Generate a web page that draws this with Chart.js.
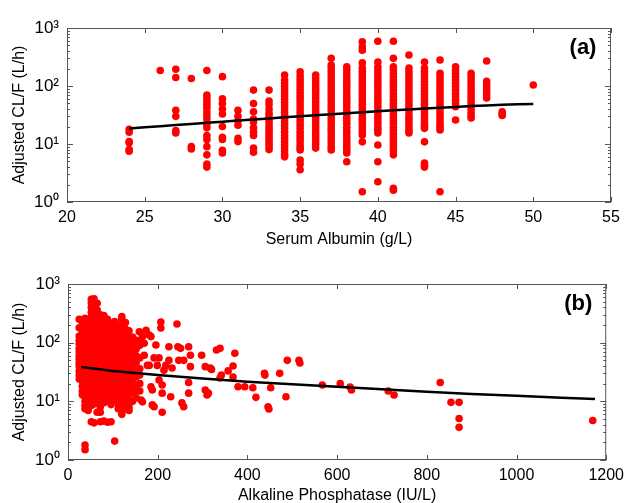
<!DOCTYPE html>
<html>
<head>
<meta charset="utf-8">
<script src="https://cdn.jsdelivr.net/npm/chart.js@4.4.1/dist/chart.umd.min.js"></script>
<style>
  html, body { margin: 0; padding: 0; background: #fff; }
  canvas { display: block; }
</style>
</head>
<body>
<canvas id="albumin" width="630" height="250"></canvas>
<canvas id="alp" width="630" height="253"></canvas>
<script>
// panel (a): serum albumin, one column of observations per integer value
const albuminLevels = [24, 26, 27, 28, 29, 30, 31, 32, 33, 34, 35, 36, 37, 38, 39, 40, 41, 42, 43, 44, 45, 46, 47, 48, 50];
const albuminClearance = [
  [18, 16, 11, 10.5, 8, 7.5],
  [185],
  [195, 140, 38, 30, 17, 15.5],
  [135, 9, 8.2],
  [185, 70, 62, 55, 48, 42, 36, 31, 27, 22, 19, 14, 12, 9, 6.5, 4.5, 4],
  [145, 60, 50, 40, 33, 20, 13, 12, 7.8, 7],
  [38, 30, 25, 21, 12.5, 11],
  [85, 50, 36, 27, 24, 19, 16, 14, 8.5, 7.2],
  [85, 55, 48, 40, 34, 30, 26, 23, 20, 18, 16, 14, 12.5, 11, 10, 9, 8],
  [155, 127, 112, 98, 86, 76, 67, 59, 52, 46, 40, 35, 31, 27, 24, 21, 18.5, 16, 14, 12.5, 11, 9.6, 8.5, 7.5, 6.6, 6],
  [176, 150, 132, 115, 100, 88, 77, 68, 60, 53, 46, 40, 35, 31, 27, 24, 21, 18.5, 16, 14, 12.5, 11, 9.6, 8.6, 7.9, 5.3, 4.5, 3.6],
  [155, 135, 118, 104, 91, 80, 70, 62, 54, 47, 41, 36, 32, 28, 24.5, 21.5, 19, 16.5, 14.5, 12.8, 11.2, 9.8, 8.5],
  [300, 230, 204, 178, 156, 137, 120, 105, 92, 81, 71, 62, 55, 48, 42, 37, 32, 28, 25, 22, 19, 17, 15, 13, 11.5, 10, 8.8, 7.9],
  [215, 188, 164, 144, 126, 110, 97, 85, 74, 65, 57, 50, 44, 38, 33, 29, 25.5, 22.5, 19.5, 17, 15, 13, 11.5, 10, 8.8, 7.8, 7, 4.95],
  [580, 475, 415, 250, 204, 178, 156, 137, 120, 105, 92, 81, 71, 62, 55, 48, 42, 37, 32, 28, 25, 22, 19, 16.5, 14.3, 10.9, 1.5],
  [590, 260, 215, 188, 164, 144, 126, 110, 97, 85, 74, 65, 57, 50, 44, 38, 33, 29, 25.5, 22.5, 19.5, 17.5, 15.5, 9.6, 4.95, 2.24],
  [590, 300, 215, 188, 164, 144, 126, 110, 97, 85, 74, 65, 57, 50, 44, 38, 33, 29, 25.5, 22.5, 19.5, 17, 15, 13, 11.5, 10, 8.8, 7.6, 6.5, 1.72, 1.6],
  [343, 204, 178, 156, 137, 120, 105, 92, 81, 71, 62, 55, 48, 42, 37, 32, 28, 25, 22, 19, 17, 15.5],
  [260, 204, 178, 156, 137, 120, 105, 92, 81, 71, 62, 55, 48, 42, 37, 32, 28, 25, 22, 20, 18.6, 10.9, 4.7, 4.3, 4.0],
  [280, 165, 145, 128, 112, 98, 86, 76, 67, 59, 52, 46, 40, 35, 31, 27, 24, 21, 19, 17.5, 1.5],
  [215, 188, 164, 144, 126, 110, 97, 85, 74, 65, 57, 50, 44, 26],
  [165, 145, 128, 112, 98, 86, 76, 67, 59, 52, 46, 40, 35, 31, 28],
  [270, 120, 105, 92, 81, 71, 62],
  [36, 33, 31],
  [104]
];
const albuminFitX = [24, 25, 26, 27, 28, 29, 30, 31, 32, 33, 34, 35, 36, 37, 38, 39, 40, 41, 42, 43, 44, 45, 46, 47, 48, 49, 50];
const albuminFitY = [18.5, 19.5, 20.3, 21.2, 22.2, 23.2, 24.2, 25.3, 26.4, 27.6, 28.8, 30, 31.3, 32.6, 33.9, 35.3, 36.6, 38, 39.4, 40.8, 42.2, 43.6, 45, 46.3, 47.5, 48.6, 49];
const albuminTicks = [20, 25, 30, 35, 40, 45, 50, 55];

// panel (b): alkaline phosphatase, dense low-ALP cloud by column + scattered points
const alpCloudX = [25, 32, 38, 45, 52, 58, 65, 72, 80, 88, 96, 104, 112, 120, 128, 136, 144, 152, 160];
const alpCloudY = [
  [250, 180, 130, 110, 95, 80, 70, 60, 52, 45, 40, 33, 28, 24],
  [230, 200, 160, 140, 120, 100, 88, 75, 65, 57, 48, 42, 36, 30, 26, 22, 18, 15, 13],
  [260, 210, 170, 150, 125, 105, 92, 80, 68, 58, 50, 44, 38, 32, 27, 23, 19, 16, 14, 12, 10, 8.5, 7.5, 1.8, 1.5],
  [240, 190, 160, 135, 115, 98, 85, 72, 62, 53, 46, 40, 34, 29, 25, 21, 18, 15, 13, 11, 9.5, 8, 7],
  [550, 480, 400, 330, 270, 220, 180, 150, 128, 108, 92, 78, 66, 56, 48, 41, 35, 30, 26, 22, 19, 16, 14, 12, 10, 8.5, 4.5],
  [560, 420, 350, 280, 230, 190, 160, 135, 115, 97, 83, 70, 60, 51, 44, 38, 32, 27, 23, 20, 17, 14.5, 12.5, 10.5, 9, 4.3],
  [470, 360, 250, 200, 170, 142, 120, 102, 87, 74, 63, 54, 46, 39, 33, 28, 24, 20.5, 17.5, 15, 13, 11, 9.5, 6.5],
  [300, 240, 200, 165, 140, 118, 100, 85, 72, 61, 52, 44, 37, 31, 26.5, 22.5, 19, 16, 13.5, 11.5, 8, 6.5, 4.5],
  [290, 230, 190, 160, 135, 114, 96, 81, 69, 58, 49, 42, 36, 30, 25.5, 21.5, 18, 15.5, 13, 11, 9.5, 4.6],
  [250, 205, 170, 145, 122, 103, 88, 74, 63, 53, 45, 38, 32, 27, 23, 19.5, 16.5, 14, 12, 10.5, 4.4],
  [210, 175, 148, 125, 106, 90, 76, 64, 54, 46, 39, 33, 28, 24, 20, 17, 14.5, 12.5, 10.5, 8.8, 4.5],
  [230, 185, 150, 128, 108, 92, 78, 66, 56, 47, 40, 34, 29, 24.5, 21, 18, 15, 12.5, 10.5, 2.1],
  [200, 165, 140, 118, 100, 85, 72, 61, 52, 44, 37, 31, 26, 22, 18.5, 15.5, 13, 11, 9, 7.5],
  [280, 250, 190, 155, 130, 110, 93, 79, 67, 57, 48, 41, 35, 30, 25, 21, 17.5, 14.5, 12, 10, 8.5, 7, 6],
  [220, 170, 140, 118, 100, 84, 71, 60, 51, 43, 36, 30, 25, 21, 17.5, 14.5, 12, 8.5, 7.5],
  [160, 125, 100, 82, 68, 56, 46, 38, 31, 25, 20, 16, 13, 10.5, 8, 7],
  [125, 100, 80, 64, 50, 40, 31, 24, 18, 14, 10],
  [110, 78, 60, 45, 33, 26, 19, 15, 11.5],
  [90, 55, 36, 28, 20, 15]
];
const alpSparse = [
  [159, 153], [163, 111], [163, 10.5], [166, 127], [166, 9.8], [170, 98], [170, 61], [174, 163], [177, 41],
  [181, 135], [181, 41], [185, 127], [185, 17.7], [188, 15.6], [188, 8.7], [192, 8.1], [192, 55], [196, 91],
  [199, 41], [203, 55], [203, 23], [207, 225], [207, 178], [210, 19], [210, 13.8], [210, 6.5], [214, 34],
  [218, 41], [225, 85], [225, 50], [229, 12], [232, 37], [243, 208], [245, 85], [247, 50], [251, 80],
  [254, 9.4], [258, 8.1], [258, 50], [269, 85], [269, 21], [269, 13.8], [273, 61], [273, 39], [298, 61],
  [306, 39], [306, 15.6], [310, 12.8], [313, 13.8], [317, 37], [320, 35], [331, 75], [339, 80], [339, 25],
  [342, 28], [357, 33], [368, 40], [368, 26], [372, 66], [379, 17.7], [394, 17.7], [412, 17], [419, 11.7],
  [438, 30], [439, 28], [446, 8.1], [448, 7.4], [452, 17], [472, 30], [486, 12], [489, 50], [515, 50],
  [517, 45], [567, 19], [607, 20], [629, 17.6], [632, 15.6], [714, 15], [727, 12.8], [830, 21], [854, 9.6],
  [872, 9.6], [872, 5.1], [872, 3.6], [1170, 4.7]
];
const alpFitX = [30, 100, 200, 300, 400, 500, 600, 700, 800, 900, 1000, 1100, 1175];
const alpFitY = [38.5, 33, 28, 24.5, 21.5, 19.5, 17.8, 16, 14.5, 13.3, 12.5, 11.5, 11];
const alpTicks = [0, 200, 400, 600, 800, 1000, 1200];

const logTicks = [1, 10, 100, 1000];
const supDigits = ['\u2070', '\u00b9', '\u00b2', '\u00b3'];
const FONT = '"Liberation Sans", Arial, sans-serif';

// box, inward ticks on all four sides, panel letter
const frame = {
  id: 'frame',
  afterDatasetsDraw(chart, args, opts) {
    const { ctx, chartArea: a, scales: { x, y } } = chart;
    ctx.save();
    ctx.strokeStyle = '#555';
    ctx.lineWidth = 1;
    ctx.strokeRect(a.left + 0.5, a.top + 0.5, a.right - a.left - 1, a.bottom - a.top - 1);
    ctx.beginPath();
    x.ticks.forEach(t => {
      const px = Math.round(x.getPixelForValue(t.value)) + 0.5;
      ctx.moveTo(px, a.bottom); ctx.lineTo(px, a.bottom - 5);
      ctx.moveTo(px, a.top); ctx.lineTo(px, a.top + 5);
    });
    for (let d = 1; d <= 1000; d *= 10) {
      for (let m = 1; m < 10; m++) {
        const v = d * m;
        if (v > 1000) break;
        const py = Math.round(y.getPixelForValue(v)) + 0.5;
        const len = m === 1 ? 6 : 3;
        ctx.moveTo(a.left, py); ctx.lineTo(a.left + len, py);
        ctx.moveTo(a.right, py); ctx.lineTo(a.right - len, py);
      }
    }
    ctx.stroke();
    ctx.font = 'bold 22px ' + FONT;
    ctx.fillStyle = '#000';
    ctx.textAlign = 'center';
    ctx.textBaseline = 'middle';
    ctx.fillText(opts.label, a.right - 28, a.top + 20);
    ctx.restore();
  }
};

function panel(id, cfg) {
  return new Chart(document.getElementById(id), {
    type: 'scatter',
    data: {
      datasets: [
        { type: 'line', data: cfg.fit, borderColor: '#000', borderWidth: 2.5, pointRadius: 0, fill: false },
        { data: cfg.points, backgroundColor: '#ff0000', borderWidth: 0, pointRadius: 3.8 }
      ]
    },
    options: {
      responsive: false,
      animation: false,
      devicePixelRatio: 1,
      layout: { padding: { top: cfg.top, right: cfg.right, left: 0, bottom: 0 } },
      plugins: { legend: { display: false }, tooltip: { enabled: false }, frame: { label: cfg.label } },
      scales: {
        x: {
          type: 'linear', min: cfg.xTicks[0], max: cfg.xTicks[cfg.xTicks.length - 1],
          afterBuildTicks: s => { s.ticks = cfg.xTicks.map(v => ({ value: v })); },
          afterFit: s => { s.height = cfg.xHeight; },
          grid: { display: false, drawTicks: false, tickLength: 0 }, border: { display: false },
          ticks: { color: '#000', padding: 6, maxRotation: 0, font: { size: 16, family: FONT }, callback: v => String(v) },
          title: { display: true, text: cfg.xTitle, color: '#000', padding: { top: 0, bottom: cfg.titlePad }, font: { size: 16, family: FONT } }
        },
        y: {
          type: 'logarithmic', min: 1, max: 1000,
          afterBuildTicks: s => { s.ticks = logTicks.map(v => ({ value: v })); },
          afterFit: s => { s.width = cfg.yWidth; },
          grid: { display: false, drawTicks: false, tickLength: 0 }, border: { display: false },
          ticks: {
            color: '#000', padding: 8, font: { size: 17, family: FONT },
            callback: v => '10' + supDigits[Math.round(Math.log10(v))]
          },
          title: { display: true, text: 'Adjusted CL/F (L/h)', color: '#000', padding: { top: 10, bottom: 0 }, font: { size: 16, family: FONT } }
        }
      }
    },
    plugins: [frame]
  });
}

const albuminPoints = [];
albuminLevels.forEach((lvl, i) => albuminClearance[i].forEach(c => albuminPoints.push({ x: lvl, y: c })));
const alpPoints = [];
alpCloudX.forEach((alp, i) => alpCloudY[i].forEach(c => alpPoints.push({ x: alp, y: c })));
alpSparse.forEach(p => alpPoints.push({ x: p[0], y: p[1] }));

panel('albumin', {
  label: '(a)', top: 28, right: 19, yWidth: 67, xHeight: 48, titlePad: 1,
  xTicks: albuminTicks, xTitle: 'Serum Albumin (g/L)',
  fit: albuminFitX.map((v, i) => ({ x: v, y: albuminFitY[i] })),
  points: albuminPoints
});
panel('alp', {
  label: '(b)', top: 34, right: 18, yWidth: 68, xHeight: 43, titlePad: -2,
  xTicks: alpTicks, xTitle: 'Alkaline Phosphatase (IU/L)',
  fit: alpFitX.map((v, i) => ({ x: v, y: alpFitY[i] })),
  points: alpPoints
});
</script>
</body>
</html>
